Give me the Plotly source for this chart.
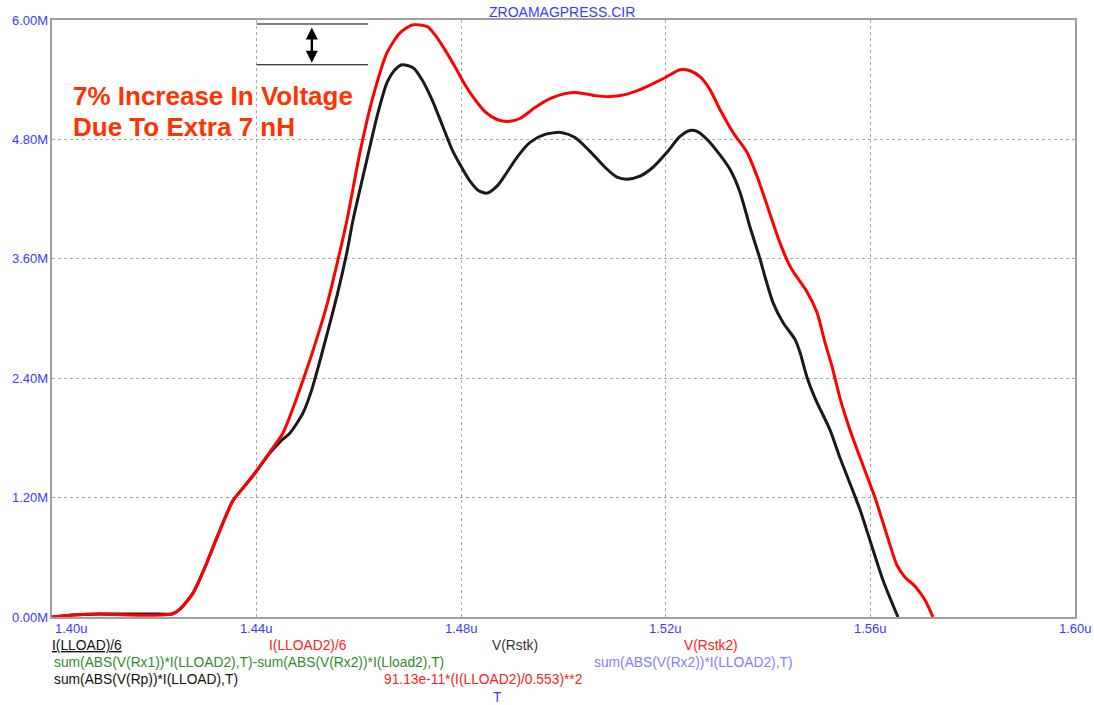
import plotly.graph_objects as go

# ---- data (time in µs, value in M) ----
t_black = [1.40000, 1.40411, 1.40938, 1.41525, 1.42111, 1.42346, 1.42502, 1.42757, 1.42991, 1.43226,
           1.43539, 1.43773, 1.43988, 1.44262, 1.44457, 1.44653, 1.44907, 1.45063, 1.45220, 1.45396,
           1.45591, 1.45767, 1.45885, 1.46158, 1.46354, 1.46549, 1.46706, 1.46843, 1.47058, 1.47234,
           1.47429, 1.47625, 1.47820, 1.47996, 1.48172, 1.48328, 1.48504, 1.48700, 1.48895, 1.49091,
           1.49345, 1.49638, 1.49951, 1.50225, 1.50518, 1.50811, 1.51046, 1.51241, 1.51495, 1.51750,
           1.52023, 1.52277, 1.52473, 1.52610, 1.52805, 1.53020, 1.53255, 1.53450, 1.53646, 1.53841,
           1.53939, 1.54096, 1.54291, 1.54526, 1.54623, 1.54760, 1.54917, 1.55210, 1.55405, 1.55640,
           1.55796, 1.55992, 1.56246, 1.56539]
v_black = [0.00, 0.02, 0.03, 0.03, 0.03, 0.03, 0.08, 0.24, 0.50, 0.80,
           1.17, 1.32, 1.46, 1.65, 1.76, 1.85, 2.05, 2.26, 2.54, 2.88,
           3.27, 3.67, 3.99, 4.60, 5.03, 5.37, 5.50, 5.55, 5.52, 5.40,
           5.20, 4.95, 4.70, 4.53, 4.38, 4.29, 4.26, 4.33, 4.47, 4.62,
           4.77, 4.85, 4.87, 4.82, 4.68, 4.52, 4.42, 4.40, 4.43, 4.52,
           4.67, 4.83, 4.89, 4.88, 4.80, 4.67, 4.50, 4.27, 3.92, 3.60,
           3.42, 3.16, 2.96, 2.79, 2.66, 2.41, 2.20, 1.88, 1.60, 1.29,
           1.08, 0.77, 0.37, 0.00]

t_red = [1.40000, 1.40411, 1.40938, 1.41525, 1.42111, 1.42346, 1.42502, 1.42757, 1.42991, 1.43226,
         1.43539, 1.43773, 1.43988, 1.44262, 1.44516, 1.44712, 1.44907, 1.45142, 1.45376, 1.45591,
         1.45767, 1.46021, 1.46276, 1.46549, 1.46803, 1.47038, 1.47194, 1.47351, 1.47488, 1.47683,
         1.47879, 1.48074, 1.48270, 1.48465, 1.48700, 1.48915, 1.49149, 1.49443, 1.49736, 1.50029,
         1.50283, 1.50616, 1.50909, 1.51202, 1.51495, 1.51789, 1.51984, 1.52277, 1.52473, 1.52668,
         1.52864, 1.53059, 1.53314, 1.53587, 1.53783, 1.53939, 1.54096, 1.54232, 1.54369, 1.54467,
         1.54760, 1.54956, 1.55112, 1.55249, 1.55405, 1.55601, 1.55836, 1.56090, 1.56325, 1.56520,
         1.56676, 1.56872, 1.57067, 1.57223]
v_red = [0.00, 0.02, 0.03, 0.02, 0.02, 0.03, 0.08, 0.24, 0.50, 0.80,
         1.17, 1.32, 1.46, 1.66, 1.85, 2.10, 2.38, 2.74, 3.14, 3.59,
         3.99, 4.67, 5.23, 5.67, 5.87, 5.95, 5.95, 5.93, 5.85, 5.70,
         5.53, 5.35, 5.20, 5.08, 5.00, 4.98, 5.01, 5.12, 5.21, 5.26,
         5.27, 5.24, 5.23, 5.25, 5.30, 5.37, 5.42, 5.50, 5.49, 5.43,
         5.30, 5.10, 4.87, 4.67, 4.43, 4.20, 3.96, 3.76, 3.59, 3.49,
         3.27, 3.06, 2.76, 2.52, 2.20, 1.88, 1.55, 1.20, 0.82, 0.52,
         0.40, 0.31, 0.17, 0.00]

x_ticks = [1.40, 1.44, 1.48, 1.52, 1.56, 1.60]
x_tick_labels = ["1.40u", "1.44u", "1.48u", "1.52u", "1.56u", "1.60u"]
y_ticks = [0.0, 1.2, 2.4, 3.6, 4.8, 6.0]
y_tick_labels = ["0.00M", "1.20M", "2.40M", "3.60M", "4.80M", "6.00M"]

title_text = "ZROAMAGPRESS.CIR"
note_lines = ["7% Increase In Voltage", "Due To Extra 7 nH"]
peak_red = 5.96
peak_black = 5.55

# legend rows: (text, color, left-pixel, row)
legend_items = [
    ("<u>I(LLOAD)/6</u>", "#111111", 50, 0),
    ("I(LLOAD2)/6", "#ff2020", 267, 0),
    ("V(Rstk)", "#333333", 490, 0),
    ("V(Rstk2)", "#ff2020", 682, 0),
    ("sum(ABS(V(Rx1))*I(LLOAD2),T)-sum(ABS(V(Rx2))*I(Lload2),T)", "#2e8b2e", 52, 1),
    ("sum(ABS(V(Rx2))*I(LLOAD2),T)", "#8080ff", 592, 1),
    ("sum(ABS(V(Rp))*I(LLOAD),T)", "#111111", 52, 2),
    ("91.13e-11*(I(LLOAD2)/0.553)**2", "#ff2020", 382, 2),
]

# ---- layout geometry ----
W, H = 1094, 705
L, R, T, B = 52, 1075, 20, 617
PW, PH = R - L, B - T
FONT = "Arial, Liberation Sans, sans-serif"
BLUE = "#3a3aff"


def px(xp):
    return (xp - L) / PW


def py(yp):
    return (B - yp) / PH


fig = go.Figure()
fig.add_trace(go.Scatter(x=t_black, y=v_black, mode="lines",
                         line=dict(color="#1a1a1a", width=3, shape="spline", smoothing=0.7),
                         hoverinfo="skip", showlegend=False))
fig.add_trace(go.Scatter(x=t_red, y=v_red, mode="lines",
                         line=dict(color="#ff0000", width=3, shape="spline", smoothing=0.7),
                         hoverinfo="skip", showlegend=False))

annotations = []
# x tick labels
for i, (xv, lab) in enumerate(zip(x_ticks, x_tick_labels)):
    annotations.append(dict(x=xv, xref="x", y=py(628), yref="paper", text=lab,
                            showarrow=False, xanchor="left" if i == 0 else "center",
                            yanchor="middle", xshift=1 if i == 0 else 0,
                            font=dict(family=FONT, size=13, color=BLUE)))
# y tick labels
for yv, lab in zip(y_ticks, y_tick_labels):
    annotations.append(dict(x=px(50), xref="paper", y=yv, yref="y", text=lab,
                            showarrow=False, xanchor="right", yanchor="middle",
                            font=dict(family=FONT, size=13, color=BLUE)))
# title
annotations.append(dict(x=px(562), xref="paper", y=py(12), yref="paper", text=title_text,
                        showarrow=False, xanchor="center", yanchor="middle",
                        font=dict(family=FONT, size=14, color=BLUE)))
# note text
for j, line in enumerate(note_lines):
    annotations.append(dict(x=px(71), xref="paper", y=py(96 + 31 * j), yref="paper", text="<b>" + line + "</b>",
                            showarrow=False, xanchor="left", yanchor="middle",
                            font=dict(family=FONT, size=26, color="#ff3300")))
# legend rows
row_y = [645, 662, 680]
for text, col, xl, row in legend_items:
    annotations.append(dict(x=px(xl), xref="paper", y=py(row_y[row]), yref="paper", text=text,
                            showarrow=False, xanchor="left", yanchor="middle",
                            font=dict(family=FONT, size=13.8, color=col)))
annotations.append(dict(x=px(497), xref="paper", y=py(697), yref="paper", text="T",
                        showarrow=False, xanchor="center", yanchor="middle",
                        font=dict(family=FONT, size=13.8, color=BLUE)))
# double-headed arrow between peak levels
x_arrow = 1.4508
annotations.append(dict(x=x_arrow, y=peak_black + 0.02, xref="x", yref="y",
                        ax=x_arrow, ay=peak_red - 0.02, axref="x", ayref="y",
                        text="", showarrow=True, arrowhead=2, startarrowhead=2,
                        arrowside="end+start", arrowsize=1.0, startarrowsize=1.0,
                        arrowwidth=2.4, arrowcolor="#000000"))

shapes = [
    dict(type="line", xref="x", yref="y", x0=1.44, x1=1.4618, y0=peak_red, y1=peak_red,
         line=dict(color="#000000", width=1.2)),
    dict(type="line", xref="x", yref="y", x0=1.44, x1=1.4618, y0=peak_black, y1=peak_black,
         line=dict(color="#000000", width=1.2)),
]

fig.update_layout(
    width=W, height=H,
    margin=dict(l=L, r=W - R, t=T, b=H - B, pad=0),
    paper_bgcolor="#ffffff", plot_bgcolor="#ffffff",
    showlegend=False,
    annotations=annotations,
    shapes=shapes,
    xaxis=dict(range=[1.40, 1.60], tickvals=x_ticks, showticklabels=False, ticks="",
               showgrid=True, gridcolor="#a8a8a8", gridwidth=1, griddash="3px,3px",
               showline=True, linecolor="#a0a0a0", linewidth=2, mirror=True, zeroline=False,
               fixedrange=True),
    yaxis=dict(range=[0, 6.0], tickvals=y_ticks, showticklabels=False, ticks="",
               showgrid=True, gridcolor="#a8a8a8", gridwidth=1, griddash="3px,3px",
               showline=True, linecolor="#a0a0a0", linewidth=2, mirror=True, zeroline=False,
               fixedrange=True),
)

fig.write_html("out.html")
